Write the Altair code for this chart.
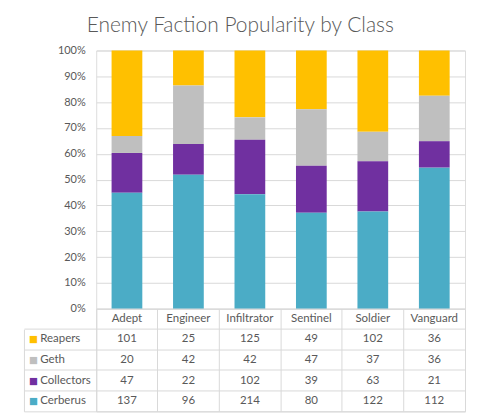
import altair as alt
import pandas as pd

classes = ["Adept", "Engineer", "Infiltrator", "Sentinel", "Soldier", "Vanguard"]
factions = ["Reapers", "Geth", "Collectors", "Cerberus"]
reapers = [101, 25, 125, 49, 102, 36]
geth = [20, 42, 42, 47, 37, 36]
collectors = [47, 22, 102, 39, 63, 21]
cerberus = [137, 96, 214, 80, 122, 112]
colors = ["#FFC000", "#BFBFBF", "#7030A0", "#4BACC6"]
y_ticks = [0, 0.1, 0.2, 0.3, 0.4, 0.5, 0.6, 0.7, 0.8, 0.9, 1.0]
title_text = "Enemy Faction Popularity by Class"

series = {"Reapers": reapers, "Geth": geth, "Collectors": collectors, "Cerberus": cerberus}
stack_rank = {"Cerberus": 0, "Collectors": 1, "Geth": 2, "Reapers": 3}

rows = []
for f in factions:
    for c, v in zip(classes, series[f]):
        rows.append({"Class": c, "Faction": f, "Value": v, "Stack": stack_rank[f]})
df = pd.DataFrame(rows)

HEADER = "header"
table_rows = [HEADER] + factions
tbl = [{"Class": c, "Row": HEADER, "Label": c} for c in classes]
tbl += [{"Class": r["Class"], "Row": r["Faction"], "Label": str(r["Value"])} for r in rows]
tdf = pd.DataFrame(tbl)
key_df = pd.DataFrame({"Row": factions})

W = 370
H_BARS = 259
ROW_H = 20.6
H_TABLE = ROW_H * len(table_rows)
LEG_W = 72.5
LINE = "#D9D9D9"
TXT = "#595959"
FONT = "Lato"

# colour of each legend key square, looked up from the same lists
color_expr = "''"
for f, col in zip(reversed(factions), reversed(colors)):
    color_expr = f"datum.value == '{f}' ? '{col}' : ({color_expr})"

bars = alt.Chart(df).mark_bar().encode(
    x=alt.X("Class:N", sort=classes,
            scale=alt.Scale(paddingInner=0.5, paddingOuter=0.25), axis=None),
    y=alt.Y("Value:Q", stack="normalize", scale=alt.Scale(domain=[0, 1]),
            axis=alt.Axis(format=".0%", values=y_ticks, grid=True, gridColor=LINE,
                          domain=False, ticks=False, labelPadding=11,
                          labelFont=FONT, labelFontSize=11, labelColor=TXT, title=None)),
    color=alt.Color("Faction:N", scale=alt.Scale(domain=factions, range=colors), legend=None),
    order=alt.Order("Stack:Q"),
).properties(width=W, height=H_BARS)

x_table = alt.X("Class:N", sort=classes, scale=alt.Scale(type="band", padding=0),
                axis=alt.Axis(grid=True, gridColor=LINE, bandPosition=0, labels=False,
                              ticks=False, domain=False, title=None, orient="top"))

text_layer = alt.Chart(tdf).mark_text(font=FONT, fontSize=11.5, color=TXT).encode(
    x=x_table,
    y=alt.Y("Row:N", sort=table_rows,
            scale=alt.Scale(type="band", domain=table_rows, padding=0),
            axis=alt.Axis(orient="left", grid=True, gridColor=LINE, bandPosition=1,
                          ticks=True, tickSize=LEG_W, tickColor=LINE, domain=False,
                          labels=True, labelAlign="left", labelPadding=-15.8,
                          labelExpr=f"datum.value == '{HEADER}' ? '' : datum.label",
                          labelFont=FONT, labelFontSize=11.5, labelColor=TXT,
                          title=None)),
    text="Label:N",
)

key_layer = alt.Chart(key_df).mark_point(opacity=0).encode(
    y=alt.Y("Row:N", sort=table_rows,
            scale=alt.Scale(type="band", domain=table_rows, padding=0),
            axis=alt.Axis(orient="left", offset=LEG_W, domain=True, domainColor=LINE,
                          domainDash=[ROW_H * 4, ROW_H], domainDashOffset=ROW_H * 4,
                          ticks=False, grid=False, labels=True, labelAlign="left",
                          labelPadding=-4.5,
                          labelExpr=f"datum.value == '{HEADER}' ? '' : '\u25A0'",
                          labelFont="DejaVu Sans", labelFontSize=9.5,
                          labelColor=alt.ExprRef(expr=color_expr), title=None)),
)

table = alt.layer(text_layer, key_layer).resolve_axis(y="independent").properties(
    width=W, height=H_TABLE,
    view=alt.ViewBackground(stroke=LINE, strokeWidth=1),
)

chart = alt.vconcat(bars, table, spacing=0, bounds="flush").properties(
    title=alt.TitleParams(title_text, font=FONT, fontWeight=300, fontSize=21,
                          color=TXT, anchor="middle", offset=8, dx=-4),
    padding={"left": 14.5, "top": 6, "right": 5, "bottom": 5},
).configure_view(strokeWidth=0).configure(font=FONT)

chart.save("out.html", embed_options={"renderer": "svg", "actions": False})
